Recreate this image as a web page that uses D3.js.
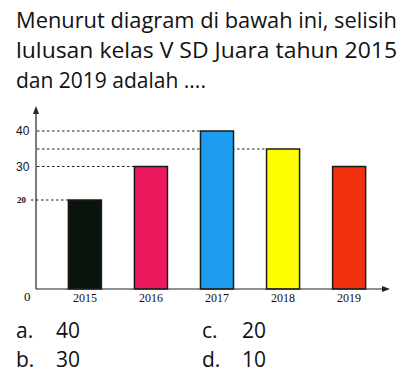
<!DOCTYPE html>
<html><head><meta charset="utf-8">
<script src="https://cdn.jsdelivr.net/npm/d3@7"></script>
<style>body{margin:0;background:#fff}svg{display:block}</style>
</head><body>
<script>
const years = ["2015","2016","2017","2018","2019"];
const values = [20, 30, 40, 35, 30];
const colors = ["#0b140b","#ec1a5c","#1e9cf0","#ffff00","#f2300e"];
const guideValues = [40, 35, 30, 20];
const tickLabels = ["40","30","20"];
const tickValues = [40, 30, 20];
const titleLines = ["Menurut diagram di bawah ini, selisih","lulusan kelas V SD Juara tahun 2015","dan 2019 adalah ...."];
const optLetters = ["a.","b.","c.","d."];
const optValues = ["40","30","20","10"];

const W = 411, H = 391;
const svg = d3.select("body").append("svg").attr("width", W).attr("height", H);

// title
const tFont = "'Open Sans', 'Noto Sans', sans-serif";
titleLines.forEach((t, i) => {
  const el = svg.append("text").attr("x", 16).attr("y", 28 + i * 30)
    .attr("font-family", tFont).attr("font-size", 21).attr("fill", "#111").text(t);
  if (i < 2) el.attr("textLength", 381).attr("lengthAdjust", "spacingAndGlyphs");
});

// scales
const x = d3.scaleBand().domain(years).range([36, 398]).paddingInner(0.5).paddingOuter(0.49);
const y = d3.scaleLinear().domain([0, 20, 30, 35, 40]).range([289, 200, 166.5, 149, 131]);

// guides (behind bars)
const barLeft = v => { const i = values.indexOf(v); return x(years[i]); };
svg.append("g").selectAll("line").data(guideValues).join("line")
  .attr("x1", d => d === 20 ? 31 : 37)
  .attr("x2", d => barLeft(d))
  .attr("y1", d => y(d)).attr("y2", d => y(d))
  .attr("stroke", "#222").attr("stroke-width", 1).attr("stroke-dasharray", "2.5,2.5");

// bars
svg.append("g").selectAll("rect").data(values).join("rect")
  .attr("x", (d, i) => x(years[i]))
  .attr("y", d => y(d))
  .attr("width", x.bandwidth())
  .attr("height", d => y(0) - y(d))
  .attr("fill", (d, i) => colors[i])
  .attr("stroke", "#1a1a1a").attr("stroke-width", 1.5);

// axes
const ax = svg.append("g").attr("stroke", "#222").attr("stroke-width", 1.2);
ax.append("line").attr("x1", 36).attr("x2", 36).attr("y1", 289).attr("y2", 110);
ax.append("line").attr("x1", 36).attr("x2", 386).attr("y1", 289).attr("y2", 289);
svg.append("path").attr("d", "M36,106 L33,114 L39,114 Z").attr("fill", "#222");
svg.append("path").attr("d", "M390,289 L382,286 L382,292 Z").attr("fill", "#222");

// y tick labels
svg.append("g").selectAll("text").data(tickValues).join("text")
  .attr("x", d => d === 20 ? 17 : 16)
  .attr("y", d => y(d) + (d === 20 ? 2.5 : 4))
  .attr("font-family", d => d === 20 ? "'Liberation Serif', serif" : "'Liberation Sans', Arial, sans-serif")
  .attr("font-size", d => d === 20 ? 9 : 12)
  .attr("font-weight", d => d === 20 ? "bold" : "normal")
  .attr("fill", "#111")
  .text((d, i) => tickLabels[i]);

// x labels
svg.append("text").attr("x", 24).attr("y", 301).attr("font-family", "'Liberation Serif', serif")
  .attr("font-size", 13).attr("fill", "#111").text("0");
svg.append("g").selectAll("text").data(years).join("text")
  .attr("x", d => x(d) + x.bandwidth() / 2).attr("y", 302)
  .attr("text-anchor", "middle")
  .attr("font-family", "'Liberation Serif', serif").attr("font-size", 12).attr("fill", "#111")
  .text(d => d);

// options
optLetters.forEach((l, i) => {
  const col = Math.floor(i / 2), row = i % 2;
  const bx = col === 0 ? 16 : 202;
  const by = 338 + row * 29;
  svg.append("text").attr("x", bx).attr("y", by).attr("font-family", tFont)
    .attr("font-size", 21).attr("fill", "#111").text(l);
  svg.append("text").attr("x", bx + 40).attr("y", by).attr("font-family", tFont)
    .attr("font-size", 21).attr("fill", "#111").text(optValues[i]);
});
</script>
</body></html>
